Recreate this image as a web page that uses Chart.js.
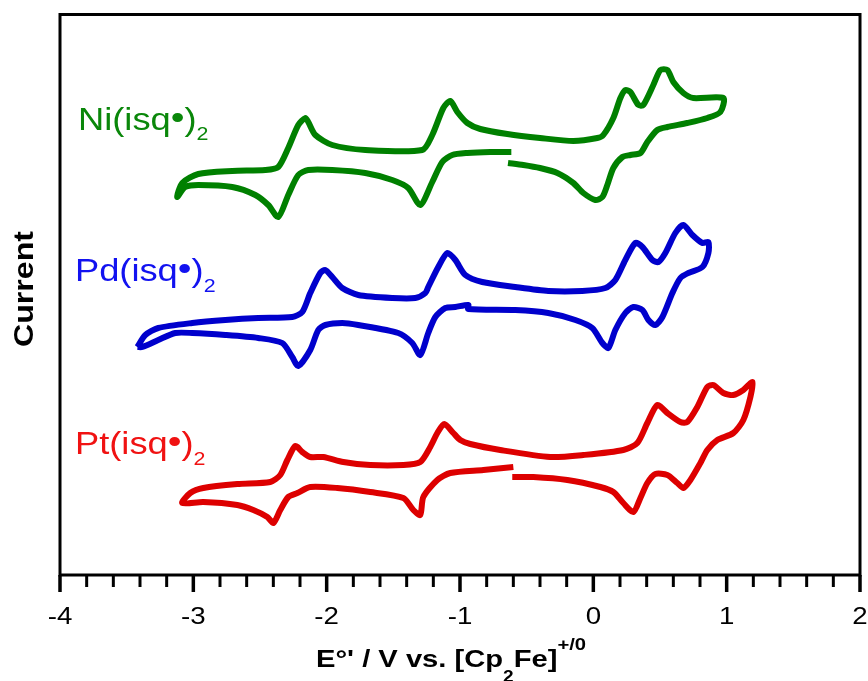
<!DOCTYPE html>
<html>
<head>
<meta charset="utf-8">
<script src="https://cdn.jsdelivr.net/npm/chart.js@4.4.0/dist/chart.umd.min.js"></script>
<style>
  html, body { margin: 0; padding: 0; background: #fff; }
</style>
</head>
<body>
<canvas id="cv" width="868" height="681"></canvas>
<script>
// 电位 (V vs. Fc+/0) 与电流 (任意单位)
const niE = [-0.64, -0.525, -0.40, -0.27, -0.15, -0.075, 0.015, 0.068, 0.105, 0.15,
  0.218, 0.278, 0.353, 0.405, 0.48, 0.555, 0.705, 0.855, 0.953, 0.975,
  0.75, 0.675, 0.60, 0.555, 0.503, 0.45, 0.375, 0.338, 0.278, 0.24,
  0.203, 0.15, 0.075, 0.03, -0.15, -0.40, -0.645, -0.848, -0.945, -1.02,
  -1.073, -1.125, -1.208, -1.283, -1.71, -1.958, -2.085, -2.138, -2.16, -2.213,
  -2.288, -2.363, -2.46, -2.708, -2.963, -3.083, -3.122, -3.06, -2.963, -2.708,
  -2.535, -2.438, -2.363, -2.288, -2.213, -2.138, -1.958, -1.71, -1.508, -1.388,
  -1.298, -1.208, -1.133, -1.058, -0.945, -0.773, -0.615];
const niI = [41.2, 41.0, 40.7, 40.2, 39.2, 38.2, 37.5, 37.8, 39.0, 40.7,
  41.8, 42.0, 42.2, 43.3, 44.5, 44.8, 45.2, 45.7, 46.3, 47.7,
  47.7, 48.2, 49.3, 50.5, 50.5, 49.0, 47.0, 47.0, 48.3, 48.5,
  47.7, 45.7, 44.0, 43.7, 43.4, 43.7, 44.1, 44.6, 45.2, 46.3,
  47.4, 46.7, 44.0, 42.5, 42.5, 43.0, 44.0, 45.3, 45.7, 45.0,
  42.7, 40.8, 40.5, 40.4, 40.1, 39.2, 37.8, 38.8, 39.0, 38.8,
  38.0, 37.0, 35.8, 38.0, 40.0, 40.5, 40.5, 40.2, 39.5, 38.7,
  37.0, 39.3, 41.3, 42.0, 42.2, 42.3, 42.3];

const pdE = [-3.42, -3.36, -3.263, -3.008, -2.76, -2.513, -2.258, -2.183, -2.123, -2.048,
  -2.01, -1.958, -1.883, -1.763, -1.508, -1.335, -1.26, -1.238, -1.163, -1.095,
  -1.035, -0.96, -0.833, -0.585, -0.338, -0.083, 0.09, 0.165, 0.24, 0.315,
  0.368, 0.443, 0.488, 0.54, 0.615, 0.675, 0.743, 0.818, 0.863, 0.863,
  0.818, 0.713, 0.653, 0.593, 0.518, 0.465, 0.413, 0.368, 0.30, 0.24,
  0.165, 0.113, 0.068, -0.008, -0.135, -0.338, -0.585, -0.938, -0.938, -1.035,
  -1.11, -1.185, -1.238, -1.298, -1.358, -1.463, -1.763, -1.883, -2.01, -2.063,
  -2.123, -2.213, -2.258, -2.333, -2.513, -2.76, -3.008, -3.135, -3.263, -3.383,
  -3.42];
const pdI = [22.8, 24.0, 24.7, 25.2, 25.5, 25.7, 25.8, 26.3, 28.2, 30.2,
  30.5, 29.8, 28.7, 28.0, 27.7, 27.7, 28.2, 28.8, 30.8, 32.2,
  31.5, 30.0, 29.3, 28.8, 28.4, 28.4, 28.7, 29.5, 31.5, 33.2,
  32.8, 31.5, 31.3, 32.2, 34.2, 35.0, 34.0, 33.2, 33.3, 32.2,
  30.8, 30.2, 29.7, 28.2, 25.8, 25.0, 25.5, 26.5, 26.8, 26.2,
  24.5, 22.7, 23.2, 24.7, 25.5, 26.2, 26.5, 26.6, 27.0, 26.8,
  26.7, 25.8, 24.2, 22.0, 23.2, 24.2, 25.0, 25.2, 25.0, 24.5,
  22.5, 20.9, 21.8, 23.2, 23.7, 24.0, 24.2, 24.2, 23.5, 22.8,
  22.8];

const ptE = [-0.60, -0.825, -1.073, -1.17, -1.275, -1.298, -1.35, -1.425, -1.673, -1.92,
  -2.123, -2.22, -2.288, -2.348, -2.40, -2.445, -2.55, -2.67, -2.925,
  -3.083, -3.023, -2.925, -2.67, -2.423, -2.348, -2.295, -2.235, -2.183, -2.123,
  -2.025, -1.875, -1.673, -1.425, -1.298, -1.223, -1.17, -1.118, -1.05, -0.998,
  -0.923, -0.698, -0.323, -0.075, 0.225, 0.33, 0.405, 0.48, 0.555, 0.653,
  0.705, 0.78, 0.855, 0.90, 0.975, 1.05, 1.125, 1.193, 1.178, 1.125,
  1.05, 0.93, 0.855, 0.803, 0.728, 0.675, 0.63, 0.555, 0.465, 0.405,
  0.353, 0.30, 0.225, 0.15, 0.053, -0.195, -0.45, -0.608];
const ptI = [10.8, 10.5, 10.2, 9.5, 7.8, 6.0, 6.5, 7.7, 8.3, 8.7,
  8.8, 8.2, 7.8, 6.5, 5.2, 5.8, 6.5, 7.0, 7.3,
  7.2, 8.2, 8.7, 9.1, 9.3, 10.0, 11.5, 12.9, 12.3, 11.8,
  11.8, 11.3, 11.0, 11.0, 11.3, 12.8, 14.2, 15.1, 14.2, 13.5,
  13.1, 12.5, 11.8, 12.0, 12.5, 13.2, 15.2, 17.0, 16.2, 15.3,
  15.3, 16.8, 18.8, 19.0, 18.2, 18.0, 18.5, 19.3, 17.8, 15.5,
  14.2, 13.5, 12.5, 11.2, 9.5, 8.7, 9.2, 10.0, 10.1, 9.2,
  7.7, 6.3, 7.2, 8.3, 8.8, 9.5, 9.8, 9.8];

// 坐标轴刻度
const xMajorTicks = [-4, -3, -2, -1, 0, 1, 2];
const xMinorStep = 0.2;

const FONT = "'Liberation Sans', Arial, sans-serif";
const STRETCH = 1.19; // 原图文字横向偏宽

// 曲线标签 (锚点用数据坐标)
const curveLabels = [
  { metal: 'Ni', color: '#0a870a', e: -3.865, i: 44.55 },
  { metal: 'Pd', color: '#1212f0', e: -3.888, i: 29.4 },
  { metal: 'Pt', color: '#f01212', e: -3.888, i: 12.1 }
];

function toPoints(es, is) {
  return es.map((e, k) => ({ x: e, y: is[k] }));
}

function isMajor(v) {
  return xMajorTicks.some(t => Math.abs(t - v) < 1e-6);
}

// 画带上下标的文字
function drawRich(ctx, x, y, parts, color) {
  ctx.save();
  ctx.translate(x, y);
  ctx.scale(STRETCH, 1);
  ctx.fillStyle = color;
  ctx.textAlign = 'left';
  ctx.textBaseline = 'alphabetic';
  let cx = 0;
  parts.forEach(p => {
    ctx.font = (p.bold ? 'bold ' : '') + p.size + 'px ' + FONT;
    ctx.fillText(p.text, cx, p.dy || 0);
    cx += ctx.measureText(p.text).width;
  });
  ctx.restore();
}

const decorPlugin = {
  id: 'decor',
  afterDraw(chart) {
    const { ctx, chartArea: a, scales: { x, y } } = chart;
    ctx.save();
    ctx.strokeStyle = '#000';
    ctx.lineWidth = 3;
    ctx.strokeRect(a.left, a.top, a.right - a.left, a.bottom - a.top);

    // 主/次刻度线
    x.ticks.forEach(t => {
      const px = x.getPixelForValue(t.value);
      const major = isMajor(t.value);
      ctx.lineWidth = major ? 3.5 : 3;
      ctx.beginPath();
      ctx.moveTo(px, a.bottom);
      ctx.lineTo(px, a.bottom + (major ? 17 : 12));
      ctx.stroke();
    });

    // 刻度数字
    ctx.fillStyle = '#000';
    ctx.font = '24.5px ' + FONT;
    ctx.textBaseline = 'alphabetic';
    xMajorTicks.forEach(v => {
      ctx.save();
      ctx.translate(x.getPixelForValue(v), 624);
      ctx.scale(1.13, 1);
      ctx.textAlign = 'center';
      ctx.fillText(String(v), 0, 0);
      ctx.restore();
    });

    // x 轴标题
    drawRich(ctx, 316, 667, [
      { text: "E°' / V vs. [Cp", size: 24.5, bold: true },
      { text: '2', size: 16, bold: true, dy: 15 },
      { text: 'Fe]', size: 24.5, bold: true },
      { text: '+/0', size: 17, bold: true, dy: -17 }
    ], '#000');

    // y 轴标题
    ctx.save();
    ctx.translate(23, 289);
    ctx.rotate(-Math.PI / 2);
    ctx.scale(STRETCH, 1);
    ctx.font = 'bold 27px ' + FONT;
    ctx.fillStyle = '#000';
    ctx.textAlign = 'center';
    ctx.textBaseline = 'alphabetic';
    ctx.fillText('Current', 0, 9.5);
    ctx.restore();

    // 曲线标签
    curveLabels.forEach(l => {
      drawRich(ctx, x.getPixelForValue(l.e), y.getPixelForValue(l.i), [
        { text: l.metal + '(isq', size: 30.5 },
        { text: '•', size: 33, dy: -1 },
        { text: ')', size: 30.5 },
        { text: '2', size: 18, dy: 10.5 }
      ], l.color);
    });
    ctx.restore();
  }
};

const lineStyle = {
  showLine: true,
  pointRadius: 0,
  borderWidth: 6,
  tension: 0.25,
  borderJoinStyle: 'round',
  fill: false
};

new Chart(document.getElementById('cv'), {
  type: 'scatter',
  data: {
    datasets: [
      Object.assign({ label: 'Ni(isq)2', data: toPoints(niE, niI), borderColor: '#008000' }, lineStyle),
      Object.assign({ label: 'Pd(isq)2', data: toPoints(pdE, pdI), borderColor: '#0000cc' }, lineStyle),
      Object.assign({ label: 'Pt(isq)2', data: toPoints(ptE, ptI), borderColor: '#dd0000' }, lineStyle)
    ]
  },
  options: {
    responsive: false,
    animation: false,
    layout: { padding: { top: 14.5, right: 8, left: 0, bottom: 0 } },
    plugins: {
      legend: { display: false },
      tooltip: { enabled: false }
    },
    scales: {
      x: {
        type: 'linear',
        min: -4,
        max: 2,
        afterFit: s => { s.height = 106; },
        grid: { display: false, drawTicks: true, tickLength: 17 },
        border: { display: false },
        ticks: {
          stepSize: xMinorStep,
          autoSkip: false,
          maxRotation: 0,
          display: true,
          color: 'rgba(0,0,0,0)',
          callback: () => ''
        }
      },
      y: {
        min: 0,
        max: 56.05,
        afterFit: s => { s.width = 60; },
        grid: { display: false },
        border: { display: false },
        ticks: { display: false }
      }
    }
  },
  plugins: [decorPlugin]
});
</script>
</body>
</html>
